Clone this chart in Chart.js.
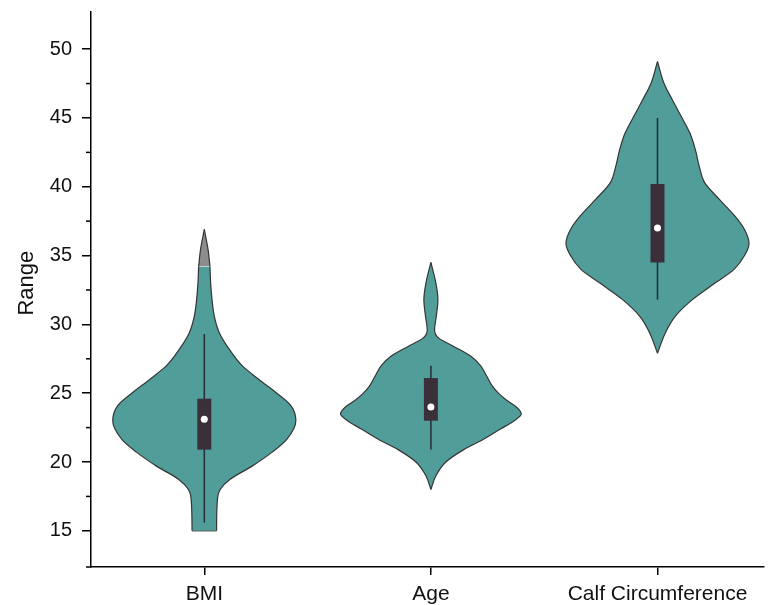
<!DOCTYPE html>
<html>
<head>
<meta charset="utf-8">
<script src="https://cdn.jsdelivr.net/npm/chart.js@4.4.1/dist/chart.umd.min.js"></script>
<style>
    html, body { margin: 0; padding: 0; background: #fff; }
    #wrap { width: 768px; height: 605px; }
</style>
</head>
<body>
<div id="wrap"><canvas id="violinChart"></canvas></div>
<script>
        const categories = ['BMI', 'Age', 'Calf Circumference'];
        const yTitle = 'Range';
        const yTicks = [15, 20, 25, 30, 35, 40, 45, 50];
        const yMinorTicks = [17.5, 22.5, 27.5, 32.5, 37.5, 42.5, 47.5];

        // violin outlines: value levels and half width (category units)
        const bmiLevels    = [15.0, 17.3, 18.0, 18.75, 19.7, 20.7, 21.65, 23.0, 24.1, 25.0, 26.0, 27.0, 28.2, 29.4, 30.6, 31.8, 33.0, 34.2];
        const bmiHalfWidth = [0.054, 0.058, 0.070, 0.114, 0.211, 0.298, 0.364, 0.404, 0.382, 0.320, 0.241, 0.167, 0.110, 0.066, 0.044, 0.034, 0.028, 0.025];
        // grey tip above the teal part
        const bmiTipLevels    = [34.2, 35.4, 36.9];
        const bmiTipHalfWidth = [0.025, 0.017, 0];

        const ageLevels    = [18.0, 19.0, 20.0, 20.9, 21.65, 22.4, 23.0, 23.5, 24.0, 24.5, 25.0, 25.5, 26.25, 27.0, 27.7, 28.4, 29.0, 29.6, 30.6, 31.8, 33.0, 34.5];
        const ageHalfWidth = [0, 0.022, 0.066, 0.145, 0.232, 0.307, 0.368, 0.399, 0.377, 0.333, 0.298, 0.272, 0.246, 0.219, 0.175, 0.101, 0.035, 0.016, 0.024, 0.031, 0.022, 0];

        const calfLevels    = [27.9, 29.4, 30.6, 31.8, 33.0, 34.0, 35.0, 35.9, 36.9, 37.9, 39.1, 40.3, 41.5, 42.7, 43.9, 45.1, 46.3, 47.5, 49.1];
        const calfHalfWidth = [0, 0.035, 0.079, 0.154, 0.254, 0.338, 0.384, 0.404, 0.384, 0.340, 0.272, 0.208, 0.184, 0.167, 0.143, 0.105, 0.066, 0.029, 0];

        // box stats: [whisker low, q1, median, q3, whisker high]
        const bmiBox  = [15.6, 20.9, 23.1, 24.6, 29.3];
        const ageBox  = [20.9, 23.0, 24.0, 26.1, 27.0];
        const calfBox = [31.8, 34.5, 37.0, 40.2, 45.0];

        const violinColor = '#509d99';
        const tipColor = '#8d8d8d';
        const outlineColor = '#353535';
        const boxColor = '#3b3039';
        const whiskerColor = '#262b36';
        const font = 'Liberation Sans, Arial, sans-serif';

        // one side of a violin
        function side(center, levels, widths, sign) {
            return levels.map((v, i) => ({ x: center + sign * widths[i], y: v }));
        }

        function violinDatasets(center, levels, widths, fillColor) {
            const common = {
                borderColor: outlineColor,
                borderWidth: 1.2,
                pointRadius: 0,
                cubicInterpolationMode: 'monotone',
                order: 3
            };
            return [
                Object.assign({ data: side(center, levels, widths, 1), fill: false }, common),
                Object.assign({ data: side(center, levels, widths, -1), fill: '-1', backgroundColor: fillColor }, common)
            ];
        }

        function boxDatasets(center, box) {
            return [
                { data: [{ x: center, y: box[0] }, { x: center, y: box[4] }], borderColor: whiskerColor, borderWidth: 1.5, pointRadius: 0, fill: false, order: 2 },
                { data: [{ x: center, y: box[1] }, { x: center, y: box[3] }], borderColor: boxColor, borderWidth: 14, borderCapStyle: 'butt', pointRadius: 0, fill: false, order: 1 },
                { data: [{ x: center, y: box[2] }], showLine: false, pointRadius: 3.5, pointBackgroundColor: '#ffffff', pointBorderColor: '#ffffff', pointBorderWidth: 0, order: 0 }
            ];
        }

        // petites graduations, titre de l'axe y
        const axisExtras = {
            id: 'axisExtras',
            afterDraw(chart) {
                const y = chart.scales.y;
                const x = chart.scales.x;
                const ctx = chart.ctx;
                ctx.save();
                ctx.strokeStyle = '#000';
                ctx.lineWidth = 1.5;
                yMinorTicks.forEach(v => {
                    const p = y.getPixelForValue(v);
                    ctx.beginPath();
                    ctx.moveTo(y.right - 5, p);
                    ctx.lineTo(y.right, p);
                    ctx.stroke();
                });
                // x axis line runs a little past the y axis
                ctx.beginPath();
                ctx.moveTo(x.left - 5, x.top);
                ctx.lineTo(x.left, x.top);
                ctx.stroke();

                // axis title, sitting a bit above the middle of the axis
                ctx.translate(27, y.getPixelForValue(33));
                ctx.rotate(-Math.PI / 2);
                ctx.fillStyle = '#111';
                ctx.font = '22px ' + font;
                ctx.textAlign = 'center';
                ctx.textBaseline = 'middle';
                ctx.fillText(yTitle, 0, 0);
                ctx.restore();
            }
        };

        document.addEventListener('DOMContentLoaded', function() {
            const datasets = [];
            datasets.push(...violinDatasets(1, bmiLevels, bmiHalfWidth, violinColor));
            datasets.push(...violinDatasets(1, bmiTipLevels, bmiTipHalfWidth, tipColor));
            // flat bottom of BMI violin
            datasets.push({
                data: [{ x: 1 - bmiHalfWidth[0], y: bmiLevels[0] }, { x: 1 + bmiHalfWidth[0], y: bmiLevels[0] }],
                borderColor: outlineColor, borderWidth: 1.2, pointRadius: 0, fill: false, order: 3
            });
            datasets.push(...violinDatasets(2, ageLevels, ageHalfWidth, violinColor));
            datasets.push(...violinDatasets(3, calfLevels, calfHalfWidth, violinColor));
            datasets.push(...boxDatasets(1, bmiBox));
            datasets.push(...boxDatasets(2, ageBox));
            datasets.push(...boxDatasets(3, calfBox));

            const ctx = document.getElementById('violinChart').getContext('2d');
            window.violinChart = new Chart(ctx, {
                type: 'line',
                data: { datasets: datasets },
                options: {
                    responsive: true,
                    maintainAspectRatio: false,
                    animation: false,
                    indexAxis: 'y',
                    layout: { padding: { top: 12, right: 0, left: 0, bottom: 0 } },
                    plugins: {
                        legend: { display: false },
                        tooltip: { enabled: false }
                    },
                    scales: {
                        x: {
                            type: 'linear',
                            position: 'bottom',
                            min: 0.5,
                            max: 3.47,
                            afterBuildTicks: s => { s.ticks = categories.map((c, i) => ({ value: i + 1 })); },
                            afterFit: s => { s.height = 38; s.paddingLeft = 0; s.paddingRight = 0; },
                            ticks: {
                                callback: v => categories[v - 1],
                                color: '#111',
                                font: { family: font, size: 21 },
                                padding: 7,
                                maxRotation: 0
                            },
                            grid: { drawOnChartArea: false, drawTicks: true, tickLength: 8, color: '#000', lineWidth: 1.5 },
                            border: { color: '#000', width: 1.5 }
                        },
                        y: {
                            type: 'linear',
                            position: 'left',
                            min: 12.37,
                            max: 52.7,
                            afterBuildTicks: s => { s.ticks = yTicks.map(v => ({ value: v })); },
                            afterFit: s => { s.width = 91; s.paddingTop = 0; s.paddingBottom = 0; },
                            ticks: {
                                color: '#111',
                                font: { family: font, size: 20 },
                                padding: 10
                            },
                            grid: { drawOnChartArea: false, drawTicks: true, tickLength: 9, color: '#000', lineWidth: 1.5 },
                            border: { color: '#000', width: 1.5 }
                        }
                    }
                },
                plugins: [axisExtras]
            });
        });
</script>
</body>
</html>
